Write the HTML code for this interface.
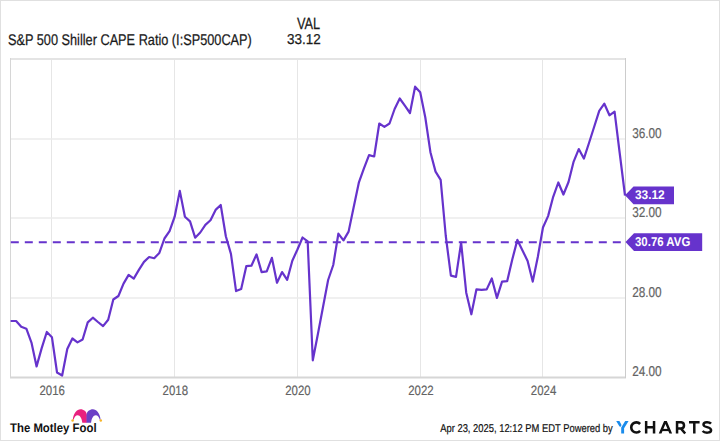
<!DOCTYPE html>
<html><head><meta charset="utf-8"><style>
html,body{margin:0;padding:0;background:#fff;}
body{width:720px;height:441px;overflow:hidden;position:relative;}
svg{position:absolute;left:0;top:0;}
text{font-family:"Liberation Sans",sans-serif;text-rendering:geometricPrecision;}
</style></head><body>
<svg width="720" height="441" viewBox="0 0 720 441">
<rect x="0.5" y="0.5" width="719" height="440" fill="#fff" stroke="#e0e0e0" stroke-width="1"/>
<!-- header -->
<text x="8.03" y="44.7" font-size="15.5" fill="#1a1a1a" stroke="#1a1a1a" stroke-width="0.25" textLength="243.76" lengthAdjust="spacingAndGlyphs">S&amp;P 500 Shiller CAPE Ratio (I:SP500CAP)</text>
<text x="297.04" y="28.6" font-size="16.2" fill="#1a1a1a" stroke="#1a1a1a" stroke-width="0.25" textLength="23.16" lengthAdjust="spacingAndGlyphs">VAL</text>
<text x="286.96" y="44.2" font-size="14.3" fill="#1a1a1a" stroke="#1a1a1a" stroke-width="0.25" textLength="33.75" lengthAdjust="spacingAndGlyphs">33.12</text>
<!-- grid -->
<g stroke="#e6e6e6" stroke-width="1" fill="none">
<path d="M51.5,59 V377 M174.5,59 V377 M297.5,59 V377 M420.5,59 V377 M542.5,59 V377"/>
</g>
<path d="M10,139 H625 M10,218 H625 M10,298 H625" stroke="#ececec" stroke-width="1.7" fill="none"/>
<path d="M10,59 H625" stroke="#e4e4e4" stroke-width="1.8" fill="none"/>
<path d="M10.5,58 V377" stroke="#d6d6d6" stroke-width="1" fill="none"/>
<path d="M10,377.4 H626" stroke="#d6d6d6" stroke-width="2"/>
<path d="M625.5,58 V378" stroke="#cccccc" stroke-width="1"/>
<!-- avg line -->
<path d="M10.8,242.3 H625" stroke="#6633cc" stroke-width="2" stroke-dasharray="8,6"/>
<!-- series -->
<path d="M10.60,321.00 L16.12,321.00 L21.23,326.80 L26.34,328.70 L31.46,342.60 L36.58,366.40 L41.69,348.10 L46.80,332.00 L51.92,337.20 L57.04,372.50 L62.15,375.50 L67.27,349.00 L72.38,338.50 L77.50,342.40 L82.61,339.50 L87.73,322.40 L92.84,317.70 L97.95,322.00 L103.07,326.10 L108.19,319.70 L113.30,299.50 L118.42,296.00 L123.53,283.60 L128.65,274.90 L133.76,278.60 L138.88,269.90 L143.99,261.90 L149.11,257.00 L154.22,258.20 L159.34,252.90 L164.45,238.50 L169.56,231.20 L174.68,216.70 L179.80,190.90 L184.91,216.70 L190.03,221.40 L195.14,237.70 L200.25,232.50 L205.37,224.90 L210.49,220.30 L215.60,209.90 L220.72,205.00 L225.83,236.30 L230.95,253.90 L236.06,291.10 L241.18,289.10 L246.29,266.20 L251.41,265.70 L256.52,254.40 L261.63,272.10 L266.75,271.40 L271.87,257.80 L276.98,282.70 L282.10,272.10 L287.21,279.80 L292.32,260.70 L297.44,249.50 L302.56,237.50 L307.67,241.40 L312.79,360.30 L317.90,334.00 L323.01,307.00 L328.13,280.00 L333.25,265.00 L338.36,233.70 L343.48,240.40 L348.59,231.60 L353.71,207.00 L358.82,182.70 L363.94,168.40 L369.05,155.10 L374.17,156.50 L379.28,123.50 L384.40,126.80 L389.51,123.50 L394.62,109.00 L399.74,98.50 L404.86,105.70 L409.97,113.00 L415.09,86.70 L420.20,92.30 L425.31,117.50 L430.43,152.20 L435.55,171.60 L440.66,179.80 L445.78,236.00 L450.89,275.70 L456.00,276.80 L461.12,242.70 L466.24,292.70 L471.35,314.30 L476.47,289.30 L481.58,289.90 L486.69,289.40 L491.81,278.50 L496.93,297.90 L502.04,281.60 L507.16,281.20 L512.27,259.50 L517.38,239.90 L522.50,250.40 L527.62,260.90 L532.73,281.60 L537.85,256.70 L542.96,227.50 L548.08,216.10 L553.19,196.80 L558.31,182.50 L563.42,194.50 L568.53,182.00 L573.65,161.60 L578.76,149.10 L583.88,158.60 L589.00,143.00 L594.11,127.00 L599.23,110.90 L604.34,103.70 L609.46,115.30 L614.57,111.70 L619.69,153.00 L625.00,195.50" fill="none" stroke="#6633cc" stroke-width="2.2" stroke-linejoin="round" stroke-linecap="butt"/>
<!-- y labels -->
<g font-size="14.2" fill="#636363" stroke="#636363" stroke-width="0.2">
<text x="632.13" y="137.8" textLength="29.5" lengthAdjust="spacingAndGlyphs">36.00</text>
<text x="632.13" y="216.9" textLength="29.5" lengthAdjust="spacingAndGlyphs">32.00</text>
<text x="632.13" y="296.9" textLength="29.5" lengthAdjust="spacingAndGlyphs">28.00</text>
<text x="632.13" y="375.8" textLength="29.5" lengthAdjust="spacingAndGlyphs">24.00</text>
</g>
<!-- x labels -->
<g font-size="13.52" fill="#636363" stroke="#636363" stroke-width="0.2" text-anchor="middle">
<text x="52.2" y="395.1" textLength="25.48" lengthAdjust="spacingAndGlyphs">2016</text>
<text x="175.3" y="395.1" textLength="25.48" lengthAdjust="spacingAndGlyphs">2018</text>
<text x="297.95" y="395.1" textLength="25.48" lengthAdjust="spacingAndGlyphs">2020</text>
<text x="420.95" y="395.1" textLength="25.48" lengthAdjust="spacingAndGlyphs">2022</text>
<text x="543.6" y="395.1" textLength="25.48" lengthAdjust="spacingAndGlyphs">2024</text>
</g>
<!-- value labels -->
<path d="M625,195.3 L633.5,186.5 H674 V204.2 H633.5 Z" fill="#6633cc"/>
<text x="634.9" y="199.3" font-size="12.68" font-weight="bold" fill="#fff" textLength="29.8" lengthAdjust="spacingAndGlyphs">33.12</text>
<path d="M625.5,242.1 L634,233.2 H702.2 V250.9 H634 Z" fill="#6633cc"/>
<text x="635.01" y="246.4" font-size="12.82" font-weight="bold" fill="#fff" textLength="55.28" lengthAdjust="spacingAndGlyphs">30.76 AVG</text>
<!-- footer -->
<text x="440.2" y="431.7" font-size="11.39" fill="#111" stroke="#111" stroke-width="0.2" textLength="172.56" lengthAdjust="spacingAndGlyphs">Apr 23, 2025, 12:12 PM EDT Powered by</text>
<!-- ycharts logo -->
<g fill="none" stroke="#111" stroke-width="2.5" stroke-linecap="butt" stroke-linejoin="miter">
<path d="M640.1,424.0 A5.1,5.1 0 1 0 640.1,430.9" stroke-width="2.6"/>
<path d="M646.15,421 V433.5 M654.05,421 V433.5 M646,427.3 H654.2"/>
<path d="M677.05,433.5 V422.25 H681.2 A3.2,3.2 0 0 1 681.2,428.6 H677.05 M680.8,428.4 L685.2,433.5"/>
<path d="M689,422.25 H699.6 M694.3,422.25 V433.5"/>
<path d="M711.0,423.6 C709.5,421.9 703.6,421.5 703.5,424.6 C703.4,428 711.2,426.2 711.1,430.2 C711.0,433.4 704.6,433.2 702.6,431.0"/>
</g>
<path d="M658.75,433.5 L664.1,421 H666.8 L672.1,433.5 H669.4 L665.45,424.0 L661.45,433.5 Z" fill="#111"/>
<path d="M661.6,428.9 H669.3 V431.1 H661.6 Z" fill="#111"/>
<g fill="#1a8cec">
<path d="M616.2,421.1 H619.4 L621.3,424.6 C621.6,425.3 621.3,426.1 620.8,426.5 C620.2,426.9 619.5,426.7 619.2,426.1 Z"/>
<path d="M625.2,421.1 H628.6 L624.1,428.2 V433.6 H621.2 V427.6 Z"/>
</g>
<!-- motley fool -->
<text x="9.99" y="431.7" font-size="12.41" font-weight="bold" fill="#111" textLength="86.62" lengthAdjust="spacingAndGlyphs">The Motley Fool</text>
<path d="M72.8,419.6 C73.5,413 77,409.3 80.5,409.3 C83.8,409.3 86.5,411.5 86.9,415 L86.9,422.7 L82.3,422.7 C81.9,418.5 80.1,415.2 77.7,415.2 C75.7,415.2 74.3,417 73.6,419.8 Z" fill="#e8217f"/>
<path d="M100.6,419.6 C99.9,413 96.4,409.3 92.9,409.3 C89.6,409.3 86.9,411.5 86.5,415 L86.5,422.7 L91.1,422.7 C91.5,418.5 93.3,415.2 95.7,415.2 C97.7,415.2 99.1,417 99.8,419.8 Z" fill="#6b3fc6"/>
<circle cx="72.6" cy="420.6" r="1.25" fill="#f6b529"/>
<circle cx="100.8" cy="420.6" r="1.25" fill="#f6b529"/>
</svg>
</body></html>
